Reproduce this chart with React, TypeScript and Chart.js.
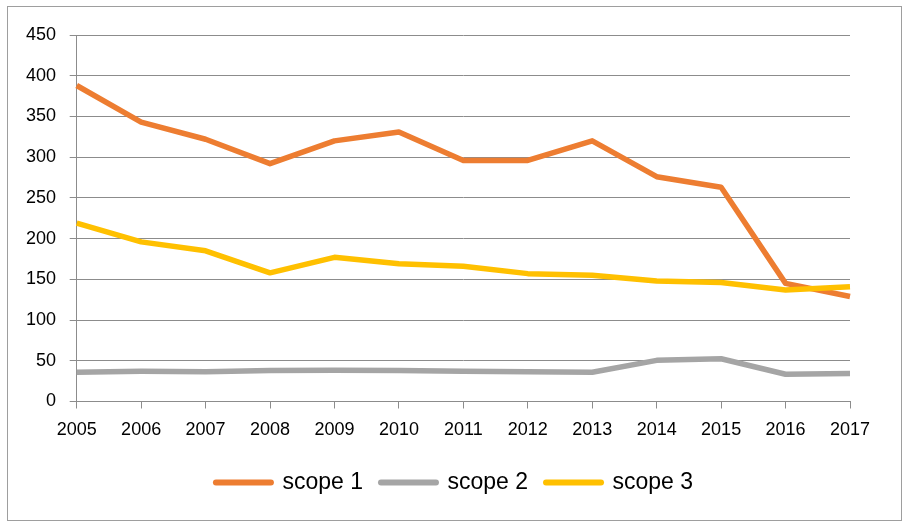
import React, { useEffect, useRef } from "react";
import { Chart, registerables } from "chart.js";

Chart.register(...registerables);

const years = ["2005","2006","2007","2008","2009","2010","2011","2012","2013","2014","2015","2016","2017"];
const scope1 = [388, 343, 322, 292, 320, 331, 296, 296, 320, 276, 263, 145, 129];
const scope2 = [36, 37, 36.5, 38, 38.5, 38, 37, 36.5, 36, 50.5, 52.5, 33.5, 34.5];
const scope3 = [219, 196, 185, 158, 177, 169, 166, 157, 155, 148, 146, 137, 141];
const seriesNames = ["scope 1", "scope 2", "scope 3"];
const seriesColors = ["#ED7D31", "#A5A5A5", "#FFC000"];

const FONT = "'Liberation Sans', Arial, sans-serif";
const GRID = "#8c8c8c";

export default function App() {
  const ref = useRef<HTMLCanvasElement | null>(null);

  useEffect(() => {
    if (!ref.current) return;
    const values = [scope1, scope2, scope3];
    const chart = new Chart(ref.current, {
      type: "line",
      data: {
        labels: years,
        datasets: values.map((v, i) => ({
          label: seriesNames[i],
          data: v,
          borderColor: seriesColors[i],
          backgroundColor: seriesColors[i],
          borderWidth: 5.5,
          pointRadius: 0,
          tension: 0,
          borderJoinStyle: "round" as const,
          order: 3 - i,
        })),
      },
      options: {
        animation: false,
        responsive: false,
        maintainAspectRatio: false,
        layout: { padding: { left: 0, right: 0, top: 28, bottom: 16 } },
        plugins: {
          tooltip: { enabled: false },
          legend: {
            position: "bottom",
            labels: {
              usePointStyle: true,
              pointStyle: "line",
              pointStyleWidth: 55,
              padding: 18,
              color: "#000",
              font: { family: FONT, size: 23 },
              sort: (a: any, b: any) => a.datasetIndex - b.datasetIndex,
              generateLabels: (c: any) => {
                const items = Chart.defaults.plugins.legend.labels.generateLabels(c);
                return items.map((it: any) => ({ ...it, lineWidth: 6, lineCap: "round", pointStyle: "line" }));
              },
            },
          },
        },
        scales: {
          x: {
            type: "category",
            offset: false,
            grid: { display: true, drawOnChartArea: false, drawTicks: true, tickLength: 7, color: GRID },
            border: { display: true, color: GRID },
            ticks: { color: "#000", font: { family: FONT, size: 18 }, padding: 11, maxRotation: 0, autoSkip: false },
            afterFit: (s: any) => { s.height = 51.5; },
          },
          y: {
            min: 0,
            max: 450,
            grid: { color: GRID, tickLength: 7, drawTicks: true },
            border: { display: true, color: GRID },
            ticks: { stepSize: 50, color: "#000", font: { family: FONT, size: 18 }, padding: 13.7 },
            afterFit: (s: any) => { s.width = 68.7; },
          },
          yRight: {
            position: "right",
            min: 0,
            max: 450,
            grid: { display: false, drawTicks: false },
            border: { display: false },
            ticks: { display: false },
            afterFit: (s: any) => { s.width = 51; },
          },
        },
      },
    });
    return () => chart.destroy();
  }, []);

  return (
    <div
      style={{
        position: "absolute",
        left: 7,
        top: 6,
        width: 895,
        height: 515,
        boxSizing: "border-box",
        border: "1px solid #9e9e9e",
        background: "#fff",
      }}
    >
      <canvas
        ref={ref}
        width={893}
        height={513}
        style={{ position: "absolute", left: 0, top: 0, display: "block", width: 893, height: 513 }}
      />
    </div>
  );
}
